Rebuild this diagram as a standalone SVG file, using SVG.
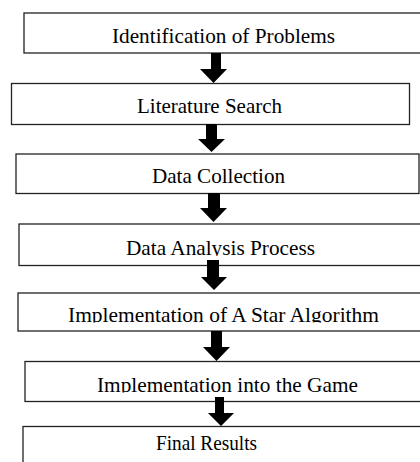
<svg xmlns="http://www.w3.org/2000/svg" width="420" height="462" viewBox="0 0 420 462">
<style>
.box{fill:#fff;stroke:#222;stroke-width:1.3}
.lbl{font-family:'Liberation Serif','Times New Roman','DejaVu Serif',serif;font-size:21px;fill:#000}
.arr{fill:#000}
</style>
<defs>
<clipPath id="c4"><rect x="0" y="230" width="420" height="26"/></clipPath>
<clipPath id="c5"><rect x="0" y="298" width="420" height="24.5"/></clipPath>
<clipPath id="c6"><rect x="0" y="368" width="420" height="24.5"/></clipPath>
</defs>
<rect width="420" height="462" fill="#fff"/>
<g id="n1"><rect class="box" x="24" y="13" width="420" height="40"/><text class="lbl" font-family="Liberation Serif, serif" x="112" y="43" textLength="223" lengthAdjust="spacingAndGlyphs">Identification of Problems</text></g>
<g id="n2"><rect class="box" x="11.5" y="83.5" width="398" height="41"/><text class="lbl" x="137" y="113" textLength="145" lengthAdjust="spacingAndGlyphs">Literature Search</text></g>
<g id="n3"><rect class="box" x="16" y="154" width="403" height="39.5"/><text class="lbl" x="152" y="183" textLength="133" lengthAdjust="spacingAndGlyphs">Data Collection</text></g>
<g id="n4"><rect class="box" x="19" y="224" width="420" height="41.5"/><text class="lbl" x="126" y="255" textLength="189" lengthAdjust="spacingAndGlyphs" clip-path="url(#c4)">Data Analysis Process</text></g>
<g id="n5"><rect class="box" x="18" y="293" width="420" height="38"/><text class="lbl" x="68" y="321.5" textLength="311" lengthAdjust="spacingAndGlyphs" clip-path="url(#c5)">Implementation of A Star Algorithm</text></g>
<g id="n6"><rect class="box" x="25" y="361.5" width="420" height="40"/><text class="lbl" x="97" y="391.5" textLength="261" lengthAdjust="spacingAndGlyphs" clip-path="url(#c6)">Implementation into the Game</text></g>
<g id="n7"><rect class="box" x="23" y="426.5" width="420" height="60"/><text class="lbl" x="156" y="450" textLength="101" lengthAdjust="spacingAndGlyphs">Final Results</text></g>
<g id="connectors">
<polygon class="arr" points="211,53 221,53 221,69 227,69 213.5,83 200,69 211,69"/>
<polygon class="arr" points="206,124 217,124 217,139 225,139 211.5,152 198,139 206,139"/>
<polygon class="arr" points="208,193 220,193 220,208 227,208 213.5,222 200,208 208,208"/>
<polygon class="arr" points="207,260 219,260 219,277 227,277 214,290 201,277 207,277"/>
<polygon class="arr" points="211,331 222,331 222,347 230,347 216.5,361 203,347 211,347"/>
<polygon class="arr" points="215,397 224,397 224,413 234,413 221,426 208,413 215,413"/>
</g>
</svg>
